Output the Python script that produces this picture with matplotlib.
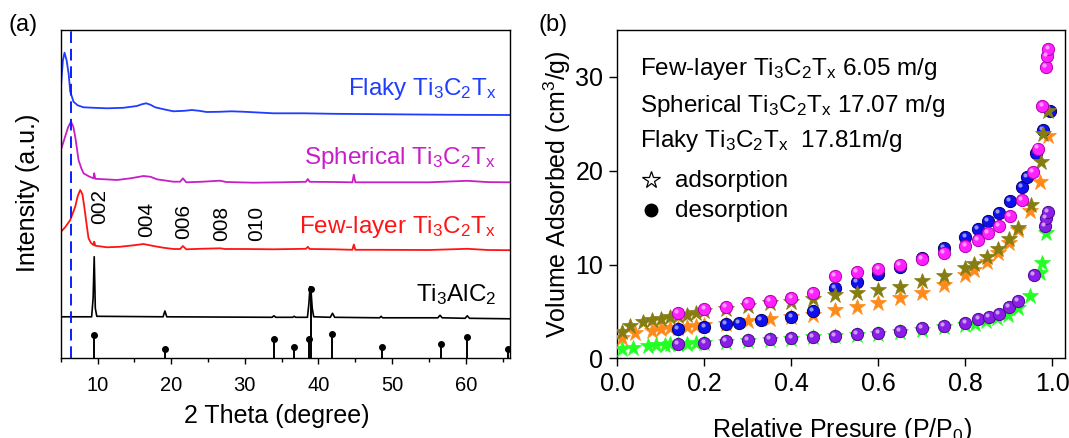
import matplotlib
matplotlib.use('Agg')
import matplotlib.pyplot as plt
from matplotlib.transforms import ScaledTranslation
from matplotlib.colors import to_rgb

plt.rcParams['font.family'] = ['Liberation Sans', 'DejaVu Sans']
plt.rcParams['mathtext.fontset'] = 'custom'
plt.rcParams['mathtext.rm'] = 'Liberation Sans'
plt.rcParams['mathtext.it'] = 'Liberation Sans:italic'
plt.rcParams['mathtext.bf'] = 'Liberation Sans:bold'

# ---- (a) XRD patterns, intensity in arbitrary units ----
flaky_2t = [5.03, 5.3, 5.52, 5.8, 6.07, 6.3, 6.74, 7.3, 8.1, 9.5, 11.3, 13.5, 15.35, 16.0, 16.6, 17.2,
            17.83, 19.0, 20.3, 21.8, 22.8, 23.8, 24.8, 26.5, 28.2, 30.0, 33.9, 38.0, 42.0, 50.0, 58.0, 66.0]
flaky_int = [271.6, 298, 305.6, 298, 285, 266.6, 256.6, 253, 251, 250.5, 250, 250.5, 252.3, 254, 255, 253.5,
             251, 249, 247, 247.5, 248.3, 247.5, 246.3, 246.5, 247, 246.5, 245, 245, 244.5, 244, 243.5, 243.3]

sph_2t = [5.03, 5.6, 6.0, 6.39, 6.7, 6.97, 7.2, 7.42, 7.8, 8.1, 8.8, 9.46, 9.55, 9.69, 11.0, 12.63, 14.5,
          16.24, 17.2, 18.06, 20.31, 21.22, 21.59, 22.04, 24.0, 26.65, 27.46, 31.17, 35.0, 38.3, 38.55, 38.8,
          42.0, 44.6, 44.8, 45.0, 48.0, 55.0, 60.2, 63.0, 66.0]
sph_int = [208.3, 221.6, 231, 236.6, 232, 221.6, 210, 198.3, 190, 185, 182, 180, 185, 179.5, 179, 178.3, 180,
           182.3, 181.5, 179, 176.6, 176.6, 180, 176, 176.5, 177.6, 176.3, 175.6, 176, 176.5, 179.3, 176.5,
           176.3, 176, 183.6, 176, 176, 176, 177.5, 176.2, 176]

few_2t = [5.03, 5.6, 6.3, 6.97, 7.3, 7.65, 7.95, 8.2, 8.56, 8.78, 9.1, 9.46, 9.55, 9.69, 11.28, 13.0, 14.9,
          16.24, 17.6, 19.0, 20.31, 21.22, 21.59, 22.04, 24.0, 26.65, 27.3, 30.0, 33.89, 38.3, 38.55, 38.8,
          42.0, 44.6, 44.8, 45.0, 48.0, 55.0, 60.2, 63.0, 66.0]
few_int = [126.6, 131, 138.3, 151.6, 162, 168.3, 164, 151.6, 131.6, 120, 115.5, 113.3, 116.6, 112.6, 111,
           111.5, 113, 114.3, 112.3, 110.5, 109.3, 109.3, 112.3, 109, 109.5, 110, 109.3, 109.3, 109, 109.5,
           111.5, 109.3, 109, 108.5, 113.8, 108.5, 108.5, 108.3, 109.5, 108.3, 108.1]

max_2t = [5.0, 9.2, 9.4, 9.55, 9.7, 9.9, 18.9, 19.15, 19.4, 33.7, 33.95, 34.2, 36.5, 36.7, 36.9, 38.5,
          38.7, 38.85, 39.0, 39.15, 39.35, 41.6, 41.9, 42.2, 48.3, 48.5, 48.7, 56.2, 56.5, 56.8, 59.9,
          60.2, 60.5, 66.0]
max_int = [41.5, 41.5, 60, 101.6, 50, 42, 41.5, 47.3, 41.5, 41, 42.5, 41, 41, 42, 41, 41,
           55, 71.6, 66, 50, 41.5, 41, 45, 41, 40.5, 42, 40.5, 40.5, 43, 40.5, 40,
           42.5, 40, 39.5]

ref_2t = [9.55, 19.2, 33.94, 36.65, 38.7, 38.97, 41.9, 48.6, 56.65, 60.2, 65.7]
ref_int = [23.3, 9.3, 19.3, 11, 19.3, 69.3, 24.3, 11, 14, 21.6, 9.3]

hkl_labels = ['002', '004', '006', '008', '010']
hkl_2t = [10.27, 16.6, 21.67, 26.8, 31.6]
hkl_int = [152, 138.7, 136.7, 135, 135]

# ---- (b) N2 isotherms ----
few_ads_p = [0.01, 0.035, 0.07, 0.09, 0.11, 0.12, 0.14, 0.16, 0.18, 0.2, 0.25, 0.3, 0.35, 0.4, 0.45, 0.5,
             0.55, 0.6, 0.65, 0.7, 0.75, 0.8, 0.822, 0.848, 0.872, 0.897, 0.92, 0.948, 0.972, 0.976, 0.986]
few_ads_v = [0.95, 1.15, 1.33, 1.38, 1.43, 1.48, 1.5, 1.56, 1.6, 1.62, 1.75, 1.85, 1.98, 2.1, 2.22, 2.35,
             2.48, 2.6, 2.8, 3.05, 3.3, 3.55, 3.65, 3.95, 4.26, 4.65, 5.32, 6.65, 9.1, 10.2, 13.4]
few_des_p = [0.14, 0.2, 0.25, 0.3, 0.35, 0.4, 0.45, 0.5, 0.55, 0.6, 0.65, 0.7, 0.75, 0.8, 0.83, 0.855,
             0.877, 0.9, 0.92, 0.958, 0.982, 0.985, 0.989]
few_des_v = [1.53, 1.67, 1.85, 1.95, 2.09, 2.2, 2.31, 2.41, 2.56, 2.7, 2.92, 3.19, 3.44, 3.8, 4.15, 4.44,
             4.69, 5.43, 6.14, 8.84, 14.09, 14.91, 15.62]

sph_ads_p = [0.01, 0.04, 0.08, 0.1, 0.12, 0.14, 0.16, 0.18, 0.2, 0.25, 0.3, 0.35, 0.4, 0.45, 0.5, 0.55,
             0.6, 0.65, 0.7, 0.75, 0.8, 0.82, 0.85, 0.875, 0.9, 0.922, 0.949, 0.971, 0.989]
sph_ads_v = [2.15, 2.65, 2.95, 3.08, 3.18, 3.25, 3.35, 3.45, 3.5, 3.7, 3.98, 4.19, 4.4, 4.65, 5.1, 5.45,
             5.86, 6.39, 6.99, 7.8, 8.87, 9.45, 10.29, 11.18, 12.31, 13.66, 15.72, 18.8, 23.7]
sph_des_p = [0.14, 0.2, 0.25, 0.28, 0.33, 0.4, 0.45, 0.5, 0.55, 0.6, 0.65, 0.7, 0.75, 0.8, 0.828, 0.851,
             0.877, 0.903, 0.93, 0.941, 0.962, 0.978, 0.995]
sph_des_v = [3.12, 3.37, 3.66, 3.8, 4.08, 4.37, 5.04, 7.53, 8.17, 8.95, 9.7, 10.7, 11.78, 12.95, 13.74,
             14.62, 15.5, 16.75, 18.27, 19.34, 21.9, 24.3, 26.37]

flk_ads_p = [0.01, 0.03, 0.06, 0.08, 0.1, 0.12, 0.14, 0.16, 0.18, 0.2, 0.25, 0.3, 0.35, 0.4, 0.45, 0.5,
             0.55, 0.6, 0.65, 0.7, 0.75, 0.8, 0.82, 0.85, 0.875, 0.9, 0.922, 0.95, 0.974, 0.979, 0.99]
flk_ads_v = [2.8, 3.4, 3.85, 4.05, 4.2, 4.4, 4.5, 4.6, 4.85, 5.0, 5.3, 5.6, 5.85, 6.05, 6.3, 6.74,
             7.0, 7.28, 7.63, 8.23, 8.76, 9.58, 10.1, 10.8, 11.7, 12.7, 13.84, 16.3, 20.9, 23.9, 26.4]
flk_des_p = [0.14, 0.2, 0.25, 0.3, 0.35, 0.4, 0.45, 0.5, 0.55, 0.6, 0.65, 0.7, 0.75, 0.8, 0.828, 0.851,
             0.877, 0.903, 0.93, 0.956, 0.967, 0.977, 0.985, 0.987, 0.991]
flk_des_v = [4.86, 5.22, 5.5, 5.86, 6.14, 6.46, 6.92, 8.8, 9.16, 9.48, 9.94, 10.6, 11.18, 11.96, 12.6,
             13.31, 14.09, 15.15, 16.86, 19.87, 22.36, 26.87, 31.05, 32.19, 33.0]

W, H = 1069, 438
fig = plt.figure(figsize=(W / 100, H / 100), dpi=100)
ax1 = fig.add_axes([60.7 / W, 1 - 358.3 / H, (510 - 60.7) / W, 328.3 / H])
ax2 = fig.add_axes([617.3 / W, 1 - 358.3 / H, (1065 - 617.3) / W, 328.3 / H])

# (a)
ax1.plot(flaky_2t, flaky_int, color='#1f3cff', lw=1.3)
ax1.plot(sph_2t, sph_int, color='#c81ec8', lw=1.3)
ax1.plot(few_2t, few_int, color='#ff1414', lw=1.3)
ax1.plot(max_2t, max_int, color='black', lw=1.2)
ax1.vlines(ref_2t, 0, ref_int, color='black', lw=1.4)
ax1.plot(ref_2t, ref_int, 'o', color='black', ms=4)
ax1.axvline(6.39, color='#0a1eff', lw=1.4, ls=(0, (6, 3)))

ax1.text(64.1, 263.5, 'Flaky Ti$_3$C$_2$T$_\\mathrm{x}$', color='#1f3cff', fontsize=17.5, ha='right', va='baseline')
ax1.text(64.1, 194.6, 'Spherical Ti$_3$C$_2$T$_\\mathrm{x}$', color='#c81ec8', fontsize=17.5, ha='right', va='baseline')
ax1.text(64.1, 125.4, 'Few-layer Ti$_3$C$_2$T$_\\mathrm{x}$', color='#ff1414', fontsize=17.5, ha='right', va='baseline')
ax1.text(64.1, 57.3, 'Ti$_3$AlC$_2$', color='black', fontsize=17.5, ha='right', va='baseline')
for lab, xx, yy in zip(hkl_labels, hkl_2t, hkl_int):
    ax1.text(xx, yy, lab, rotation=90, fontsize=15, ha='center', va='center')

ax1.set_xlim(5, 66)
ax1.set_ylim(0, 328.3)
ax1.set_xticks([10, 20, 30, 40, 50, 60])
ax1.set_xticks([5, 15, 25, 35, 45, 55, 65], minor=True)
ax1.set_yticks([])
ax1.tick_params(axis='x', direction='out', length=4, width=1, labelsize=14.5, pad=9)
ax1.tick_params(axis='x', which='minor', direction='out', length=3, width=1)
ax1.set_xlabel('2 Theta (degree)', fontsize=18)
ax1.xaxis.set_label_coords(0.481, -0.14)
ax1.set_ylabel('Intensity (a.u.)', fontsize=18)
ax1.yaxis.set_label_coords(-0.047, 0.503)

# (b)
def balls(ax, x, y, color, edge, z):
    ax.plot(x, y, 'o', ms=8.8, mfc=color, mec=edge, mew=0.7, ls='none', zorder=z)
    c = to_rgb(color)
    light = tuple(0.45 * v + 0.55 for v in c)
    hl = ScaledTranslation(-1.3 / 72, 1.5 / 72, fig.dpi_scale_trans)
    ax.plot(x, y, 'o', ms=3, mfc=light, mec='none', ls='none', zorder=z + 0.1,
            transform=ax.transData + hl)

def stars(ax, x, y, color, z):
    ax.plot(x, y, '*', ms=12, mfc=color, mec=color, mew=0.5, ls='none', zorder=z)

stars(ax2, few_ads_p, few_ads_v, '#22ff22', 3)
balls(ax2, few_des_p, few_des_v, '#8a1ee8', '#4a0a90', 4)
stars(ax2, sph_ads_p, sph_ads_v, '#ff8a1a', 5)
balls(ax2, sph_des_p, sph_des_v, '#1010ee', '#00006a', 6)
stars(ax2, flk_ads_p, flk_ads_v, '#857d12', 7)
balls(ax2, flk_des_p, flk_des_v, '#ff22ff', '#b000b0', 8)

ax2.text(0.051, 0.863, 'Few-layer Ti$_3$C$_2$T$_\\mathrm{x}$ 6.05 m/g', transform=ax2.transAxes, fontsize=17.5, va='baseline')
ax2.text(0.051, 0.751, 'Spherical Ti$_3$C$_2$T$_\\mathrm{x}$ 17.07 m/g', transform=ax2.transAxes, fontsize=17.5, va='baseline')
ax2.text(0.051, 0.643, 'Flaky Ti$_3$C$_2$T$_\\mathrm{x}$  17.81m/g', transform=ax2.transAxes, fontsize=17.5, va='baseline')
ax2.plot([0.0746], [0.543], '*', ms=13, mfc='white', mec='black', mew=0.9, transform=ax2.transAxes)
ax2.plot([0.0746], [0.452], 'o', ms=9, color='black', transform=ax2.transAxes)
ax2.text(0.129, 0.523, 'adsorption', transform=ax2.transAxes, fontsize=17.5, va='baseline')
ax2.text(0.129, 0.431, 'desorption', transform=ax2.transAxes, fontsize=17.5, va='baseline')

ax2.set_xlim(0, 1.029)
ax2.set_ylim(0, 35)
ax2.set_xticks([0.0, 0.2, 0.4, 0.6, 0.8, 1.0])
ax2.set_xticklabels(['0.0', '0.2', '0.4', '0.6', '0.8', '1.0'])
ax2.set_yticks([0, 10, 20, 30])
ax2.tick_params(direction='out', length=6, width=1, labelsize=18, pad=4)
ax2.set_xlabel('Relative Presure (P/P$_0$)', fontsize=18)
ax2.xaxis.set_label_coords(0.501, -0.175)
ax2.set_ylabel('Volume Adsorbed (cm$^3$/g)', fontsize=18)
ax2.yaxis.set_label_coords(-0.1, 0.5)

for ax in (ax1, ax2):
    for s in ax.spines.values():
        s.set_linewidth(1.0)

fig.text(9 / W, 1 - 25.5 / H, '(a)', fontsize=17, va='center', ha='left')
fig.text(539 / W, 1 - 25.5 / H, '(b)', fontsize=17, va='center', ha='left')

fig.savefig('out.png', dpi=100)
